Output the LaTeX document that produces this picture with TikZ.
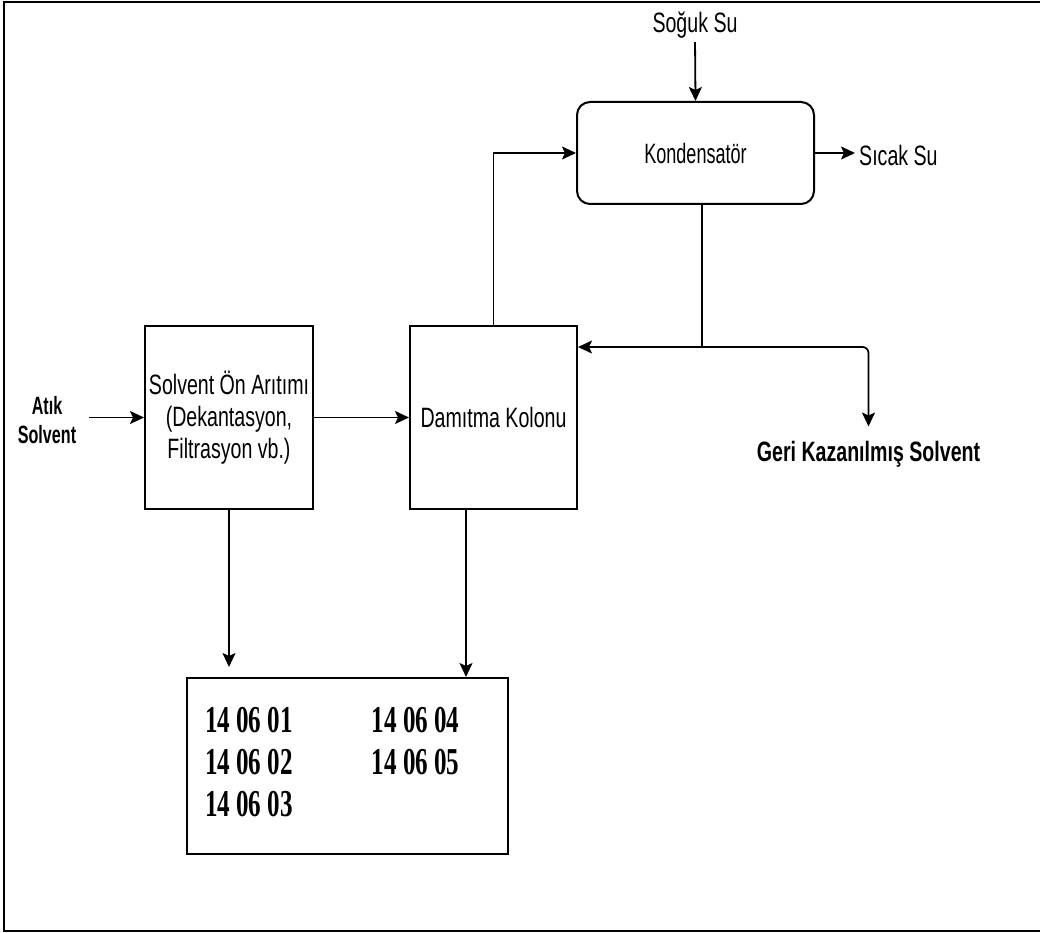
\documentclass[tikz,border=0pt]{standalone}
\usepackage{fontspec}
\newfontfamily\fA[FakeStretch=0.70]{Liberation Sans}
\newfontfamily\fK[FakeStretch=0.645]{Liberation Sans}
\newfontfamily\fT[FakeStretch=0.66]{Liberation Serif}
\usetikzlibrary{arrows.meta,calc}
\tikzset{
  box/.style={draw, line width=2pt, inner sep=0pt, align=center,
              font=\fA\fontsize{28}{32}\selectfont},
  conn/.style={line width=1.8pt, -{Stealth[length=14pt,width=13pt,inset=3pt]}},
  plain/.style={line width=1.8pt},
  lbl/.style={inner sep=0pt, font=\fA\fontsize{28}{32}\selectfont},
  frame/.style={line width=2.6pt}
}
\begin{document}
\begin{tikzpicture}[x=1pt,y=-1pt]
\useasboundingbox (0,0) rectangle (1040,933);
\draw[frame] (1042,2) -- (4,2) -- (4,931) -- (1042,931);

% boxes
\node[box, minimum width=168pt, minimum height=183pt] (pre) at (229,417.5)
  {Solvent Ön Arıtımı\\(Dekantasyon,\\Filtrasyon vb.)};
\node[box, minimum width=167pt, minimum height=183pt] (dam) at (493.5,417.5)
  {Damıtma Kolonu};
\node[box, rounded corners=13pt, minimum width=237pt, minimum height=102pt,
      font=\fK\fontsize{28}{32}\selectfont] (kond) at (695.5,153) {Kondensatör};
\node[box, minimum width=321pt, minimum height=176pt, inner xsep=18pt,
      font=\fT\bfseries\fontsize{38}{42}\selectfont] (codes) at (347.5,766)
  {\makebox[285pt][l]{\begin{tabular}{@{}l@{\hspace{79pt}}l@{}}
   14 06 01 & 14 06 04\\
   14 06 02 & 14 06 05\\
   14 06 03 & \\
   \end{tabular}}};

% labels
\node[lbl, anchor=base] (soguk) at (695,33) {Soğuk Su};
\node[lbl, anchor=base west] (sicak) at (859,166) {Sıcak Su};
\node[lbl, anchor=base, font=\fA\bfseries\fontsize{28}{32}\selectfont] (geri)
  at (868.5,461) {Geri Kazanılmış Solvent};
\node[inner sep=0pt, align=center, font=\fK\bfseries\fontsize{25}{29}\selectfont]
  (atik) at (47,420) {Atık\\Solvent};

% connectors
\draw[conn, shorten <=3pt] (soguk.south) -- (kond.north);
\draw[conn, shorten >=4pt] (kond.east) -- (kond.east -| sicak.west);
\draw[conn, shorten <=13pt] (atik.east |- pre.west) -- (pre.west);
\draw[conn] (pre.east) -- (dam.west);
\draw[conn] (dam.north) |- (kond.west);
\coordinate (j) at (702,347);
\draw[plain] (kond.south -| j) -- (j);
\draw[conn] (j) -- (j -| dam.east);
\draw[conn, rounded corners=6pt, shorten >=14pt] (j) -| (geri.north);
\draw[conn, shorten >=10pt] (pre.south) -- (pre.south |- codes.north);
\draw[conn] ([xshift=-27.5pt]dam.south) -- ([xshift=-27.5pt]dam.south |- codes.north);
\end{tikzpicture}
\end{document}
